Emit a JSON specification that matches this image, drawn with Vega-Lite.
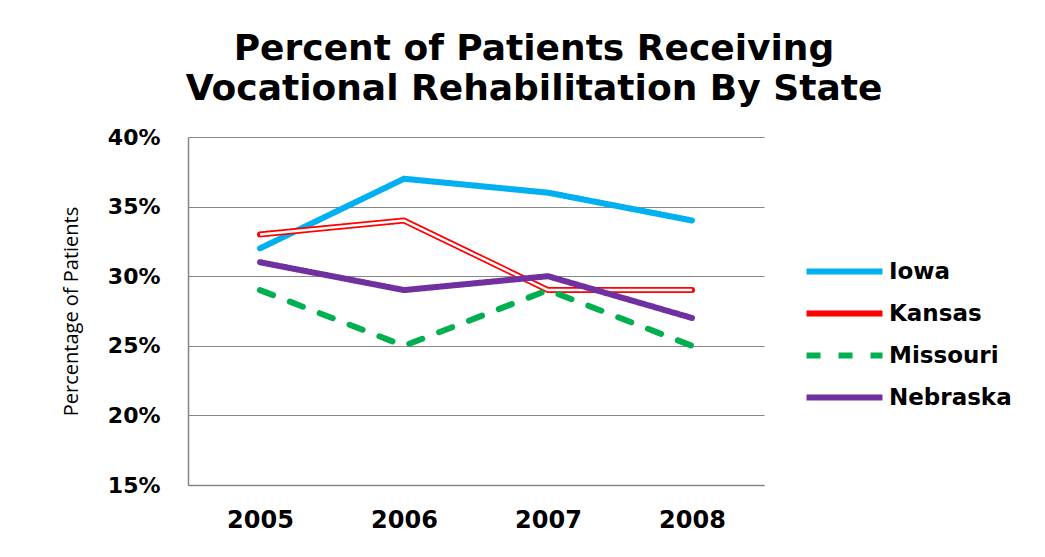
{
  "$schema": "https://vega.github.io/schema/vega-lite/v6.json",
  "width": 576,
  "height": 348,
  "padding": {"left": 61, "top": 31, "right": 5, "bottom": 5},
  "background": "white",
  "config": {"view": {"stroke": null}},
  "title": {
    "text": ["Percent of Patients Receiving", "Vocational Rehabilitation By State"],
    "font": "DejaVu Sans",
    "fontSize": 36,
    "fontWeight": "bold",
    "lineHeight": 40,
    "color": "black",
    "anchor": "middle",
    "dx": 58,
    "offset": 18
  },
  "data": {
    "values": [
      {"state": "Iowa", "year": "2005", "pct": 0.32},
      {"state": "Iowa", "year": "2006", "pct": 0.37},
      {"state": "Iowa", "year": "2007", "pct": 0.36},
      {"state": "Iowa", "year": "2008", "pct": 0.34},
      {"state": "Kansas", "year": "2005", "pct": 0.33},
      {"state": "Kansas", "year": "2006", "pct": 0.34},
      {"state": "Kansas", "year": "2007", "pct": 0.29},
      {"state": "Kansas", "year": "2008", "pct": 0.29},
      {"state": "Missouri", "year": "2005", "pct": 0.29},
      {"state": "Missouri", "year": "2006", "pct": 0.25},
      {"state": "Missouri", "year": "2007", "pct": 0.29},
      {"state": "Missouri", "year": "2008", "pct": 0.25},
      {"state": "Nebraska", "year": "2005", "pct": 0.31},
      {"state": "Nebraska", "year": "2006", "pct": 0.29},
      {"state": "Nebraska", "year": "2007", "pct": 0.30},
      {"state": "Nebraska", "year": "2008", "pct": 0.27}
    ]
  },
  "encoding": {
    "x": {
      "field": "year",
      "type": "ordinal",
      "scale": {"type": "point", "padding": 0.5},
      "axis": {
        "title": null,
        "labelAngle": 0,
        "labelFont": "DejaVu Sans",
        "labelFontSize": 24,
        "labelFontWeight": "bold",
        "labelColor": "black",
        "labelPadding": 23,
        "ticks": false,
        "domainColor": "#868686",
        "domainWidth": 1.5,
        "grid": false
      }
    },
    "y": {
      "field": "pct",
      "type": "quantitative",
      "scale": {"domain": [0.15, 0.40], "nice": false, "zero": false},
      "axis": {
        "values": [0.15, 0.20, 0.25, 0.30, 0.35, 0.40],
        "format": ".0%",
        "title": "Percentage of Patients",
        "titleFont": "Open Sans",
        "titleFontSize": 20,
        "titleFontWeight": "normal",
        "titleColor": "black",
        "titlePadding": 26,
        "labelFont": "DejaVu Sans",
        "labelFontSize": 22,
        "labelFontWeight": "bold",
        "labelColor": "black",
        "labelPadding": 28,
        "ticks": false,
        "grid": true,
        "gridColor": "#868686",
        "gridWidth": 1.2,
        "domainColor": "#868686",
        "domainWidth": 1.5
      }
    }
  },
  "layer": [
    {
      "transform": [{"filter": "datum.state == 'Iowa' || datum.state == 'Kansas'"}],
      "mark": {"type": "line", "strokeWidth": 6, "strokeCap": "round", "strokeJoin": "round"},
      "encoding": {
        "color": {
          "field": "state",
          "type": "nominal",
          "scale": {"domain": ["Iowa", "Kansas", "Missouri", "Nebraska"], "range": ["#00B0F0", "#FF0000", "#00B050", "#7030A0"]},
          "legend": {
            "orient": "none",
            "legendX": 644,
            "legendY": 122,
            "title": null,
            "padding": 0,
            "symbolType": "M-4,0H4",
            "symbolSize": 361,
            "symbolStrokeWidth": 6,
            "labelFont": "DejaVu Sans",
            "labelFontSize": 23,
            "labelFontWeight": "bold",
            "labelColor": "black",
            "labelOffset": 32,
            "rowPadding": 17
          }
        },
        "strokeDash": {
          "field": "state",
          "type": "nominal",
          "scale": {"domain": ["Iowa", "Kansas", "Missouri", "Nebraska"], "range": [[1, 0], [1, 0], [14, 18], [1, 0]]},
          "legend": null
        }
      }
    },
    {
      "transform": [{"filter": "datum.state == 'Kansas'"}],
      "mark": {"type": "line", "strokeWidth": 2.5, "color": "white", "strokeCap": "butt", "strokeJoin": "round"},
      "encoding": {"detail": {"field": "state"}}
    },
    {
      "transform": [{"filter": "datum.state == 'Missouri' || datum.state == 'Nebraska'"}],
      "mark": {"type": "line", "strokeWidth": 6, "strokeCap": "round", "strokeJoin": "round"},
      "encoding": {
        "color": {"field": "state", "type": "nominal"},
        "strokeDash": {"field": "state", "type": "nominal"}
      }
    }
  ]
}
